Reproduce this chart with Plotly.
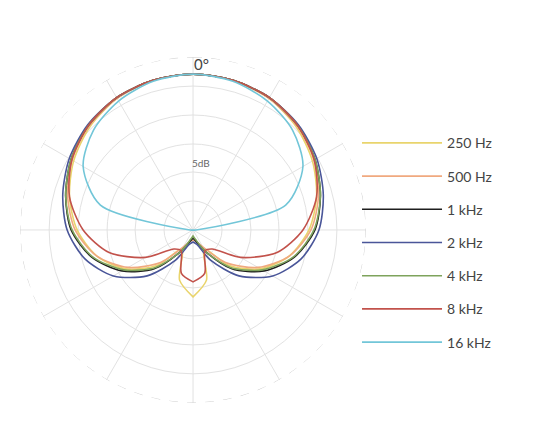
import plotly.graph_objects as go

# angles in degrees from the front (0 = on-axis), one half of a symmetric pattern
angles = [0, 15, 30, 45, 60, 75, 90, 105, 120, 135, 150, 165, 180]

# radius (outer dashed ring = 173)
r_250 = [156, 155, 152, 146, 138, 128, 116, 100, 78, 50, 22, 52, 67]
r_500 = [156, 155, 152, 147, 140, 130, 118, 100, 75, 46, 20, 12, 10]
r_1k = [156, 155, 153, 148, 141, 132, 122, 105, 82, 55, 25, 12, 8]
r_2k = [156, 155, 153, 149, 143, 135, 126, 112, 92, 65, 35, 15, 12]
r_4k = [156, 155, 153, 148, 141, 132, 121, 104, 80, 53, 25, 10, 6]
r_8k = [156, 155, 153, 148, 140, 128, 110, 87, 55, 27, 24, 45, 52]
r_16k = [156, 154, 149, 141, 127, 96, 3]

names = ["250 Hz", "500 Hz", "1 kHz", "2 kHz", "4 kHz", "8 kHz", "16 kHz"]
colors = ["#e9d46c", "#f0a97f", "#1e1e1e", "#4a5699", "#7ea35c", "#c2524b", "#72c6d8"]
series = [r_250, r_500, r_1k, r_2k, r_4k, r_8k, r_16k]

rings = [29, 58, 86, 115, 144]
outer = 173

fig = go.Figure()

# dashed outer ring
ring_theta = list(range(0, 361, 2))
fig.add_trace(go.Scatterpolar(r=[outer] * len(ring_theta), theta=ring_theta, mode="lines",
                              line=dict(color="#cfcfcf", width=1, dash="dash"),
                              showlegend=False, hoverinfo="skip"))

for name, col, r in zip(names, colors, series):
    a = angles[:len(r)]
    theta = a + [360 - x for x in a[::-1]]
    rr = r + r[::-1]
    fig.add_trace(go.Scatterpolar(r=rr, theta=theta, mode="lines", name=name,
                                  legendgroup=name,
                                  line=dict(color=col, width=1.6, shape="spline", smoothing=0.8)))

fig.update_layout(
    width=554, height=426,
    margin=dict(l=0, r=0, t=0, b=0),
    paper_bgcolor="white",
    font=dict(family="Lato", color="#444"),
    polar=dict(
        domain=dict(x=[0.022, 0.646], y=[0.073, 0.885]),
        bgcolor="white",
        radialaxis=dict(range=[0, outer], tickvals=rings, showticklabels=False,
                        gridcolor="#e2e2e2", gridwidth=1.2, showline=False, ticks=""),
        angularaxis=dict(rotation=90, direction="clockwise", dtick=30,
                         showticklabels=False, ticks="", gridcolor="#e2e2e2",
                         showline=False),
    ),
    legend=dict(x=0.63, y=0.72, xanchor="left", yanchor="top",
                font=dict(size=14, color="#444"), itemwidth=80,
                tracegroupgap=12, bgcolor="rgba(0,0,0,0)"),
    annotations=[
        dict(text="0°", x=193 / 554, y=1 - 45 / 426, xref="paper", yref="paper",
             showarrow=False, font=dict(size=15, color="#444")),
        dict(text="5dB", x=193 / 554, y=1 - 155 / 426, xref="paper", yref="paper",
             showarrow=False, font=dict(size=10, color="#666")),
    ],
)

fig.write_html("out.html")
